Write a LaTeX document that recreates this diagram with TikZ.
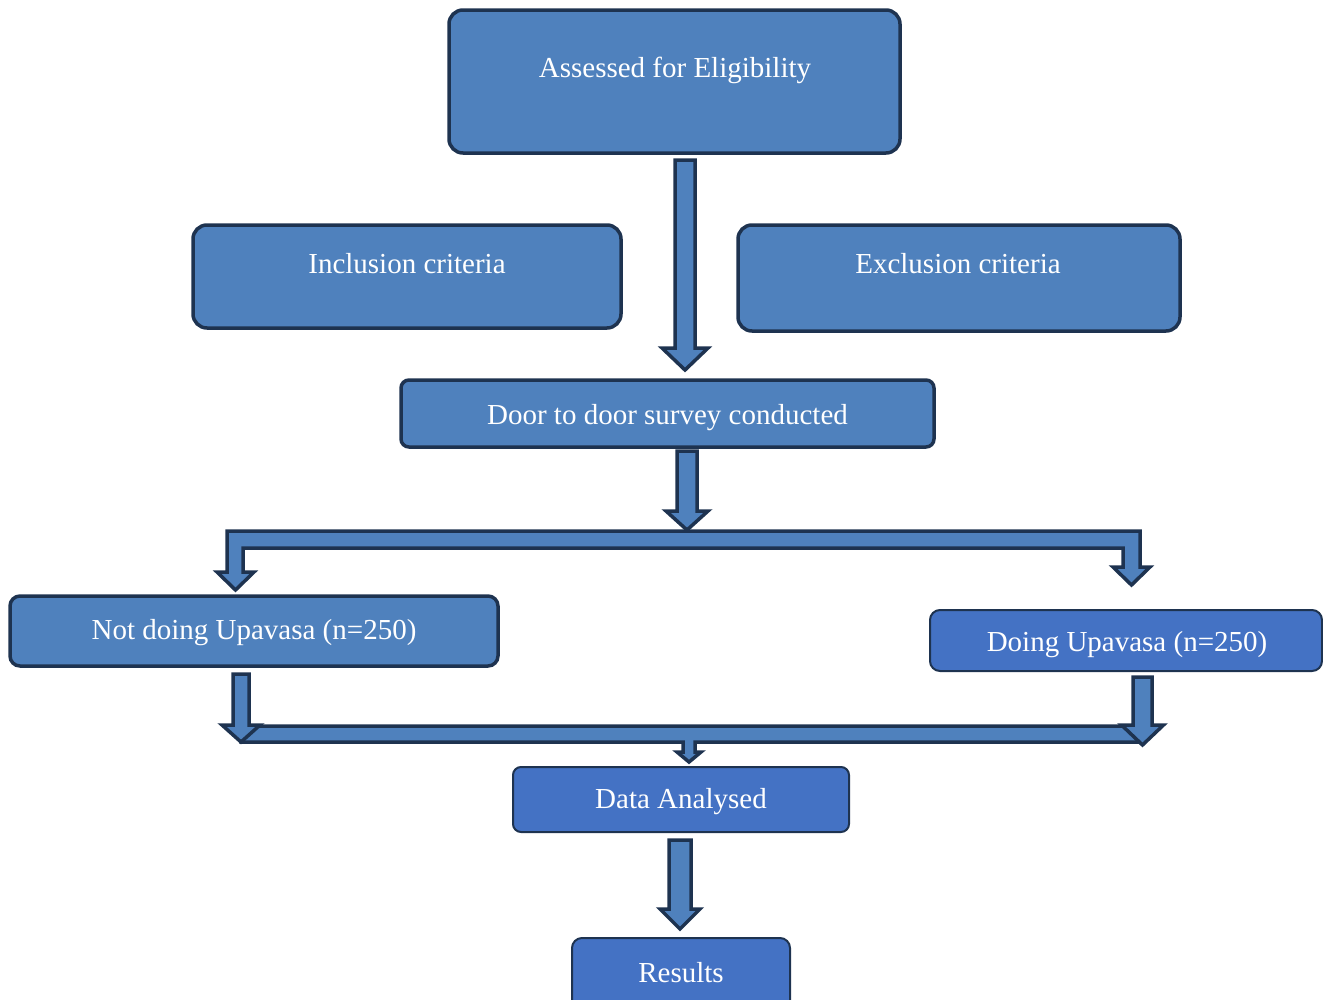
\documentclass[tikz,border=0pt]{standalone}
\usepackage{fontspec}
\setmainfont{Liberation Serif}
\definecolor{boxblue}{HTML}{4F81BD}
\definecolor{boxblueB}{HTML}{4472C4}
\definecolor{edge}{HTML}{1E3350}
\tikzset{
  boxA/.style={draw=edge, fill=boxblue, line width=3.5pt, rounded corners=14pt, inner sep=0pt},
  boxB/.style={draw=edge, fill=boxblueB, line width=2pt, rounded corners=10pt, inner sep=0pt},
  lbl/.style={text=white, font=\fontsize{29}{32}\selectfont, inner sep=0pt},
  blockarrow/.style={draw=edge, fill=boxblue, line width=3.5pt, line join=miter},
}
% vertical block arrow: x centre, y top, y tip, half shaft width, half head width, head length
\newcommand{\vblock}[6]{%
  \draw[blockarrow] (#1-#4,#2) -- (#1+#4,#2) -- (#1+#4,#3-#6) -- (#1+#5,#3-#6) -- (#1,#3)
    -- (#1-#5,#3-#6) -- (#1-#4,#3-#6) -- cycle;}
\begin{document}
\begin{tikzpicture}[x=1pt,y=-1pt]
\useasboundingbox (0,0) rectangle (1323,999);

% boxes
\node[boxA, minimum width=451pt, minimum height=143pt] (assess) at (674.5,81.5) {};
\node[lbl] (assessT) at (675,70) {Assessed for Eligibility};
\node[boxA, minimum width=428pt, minimum height=103pt] (incl) at (407,276.5) {};
\node[lbl] (inclT) at (407,264) {Inclusion criteria};
\node[boxA, minimum width=442pt, minimum height=106pt] (excl) at (959,278) {};
\node[lbl] (exclT) at (958,264) {Exclusion criteria};
\node[boxA, minimum width=533pt, minimum height=67pt, rounded corners=8pt] (door) at (667.5,413.5) {};
\node[lbl] (doorT) at (667.5,418) {Door to door survey conducted};
\node[boxA, minimum width=488pt, minimum height=70pt, rounded corners=10pt] (notdo) at (254,631) {};
\node[lbl] (notdoT) at (254,633) {Not doing Upavasa (n=250)};
\node[boxB, minimum width=392pt, minimum height=61pt] (dodo) at (1126,640.5) {};
\node[lbl] (dodoT) at (1127,645) {Doing Upavasa (n=250)};
\node[boxB, minimum width=336pt, minimum height=65pt, rounded corners=8pt] (data) at (681,799.5) {};
\node[lbl] (dataT) at (681,802) {Data Analysed};
\node[boxB, minimum width=218pt, minimum height=80pt, rounded corners=10pt] (res) at (681,978) {};
\node[lbl] (resT) at (681,973) {Results};

% block arrows
\vblock{685}{160}{370}{10}{23}{22}
\vblock{687}{451}{530}{10}{21}{19}
\vblock{680}{840}{929}{11}{20}{20}

% split bracket
\draw[blockarrow] (227,531) -- (1140,531) -- (1140,567) -- (1150,567) -- (1131.5,585)
  -- (1113,567) -- (1123,567) -- (1123,548) -- (243,548) -- (243,572) -- (254,572)
  -- (235.5,590) -- (217,572) -- (227,572) -- cycle;

% merge bracket
\draw[blockarrow] (241,726) -- (1142,726) -- (1142,742) -- (695,742) -- (695,752)
  -- (701,752) -- (689,762) -- (677,752) -- (683,752) -- (683,742) -- (241,742) -- cycle;
\vblock{241}{674}{742}{8}{19}{17}
\vblock{1142.5}{677}{745}{9.5}{21}{20}
\end{tikzpicture}
\end{document}
